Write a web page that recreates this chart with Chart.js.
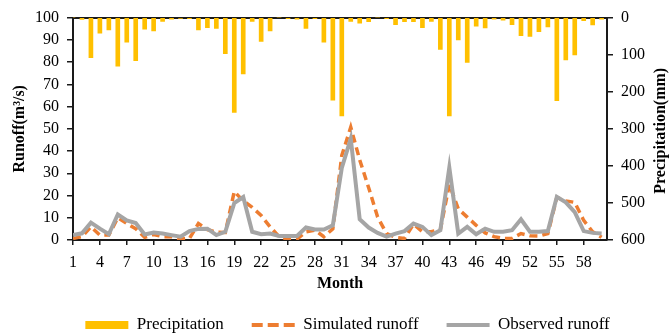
<!DOCTYPE html>
<html>
<head>
<meta charset="utf-8">
<script src="https://cdn.jsdelivr.net/npm/chart.js@4"></script>
<style>
  html, body { margin: 0; padding: 0; background: #fff; }
  #wrap { width: 669px; height: 335px; }
</style>
</head>
<body>
<div id="wrap"><canvas id="runoffChart"></canvas></div>
<script>
const months = [];
for (let m = 1; m <= 60; m++) months.push(m);

const xTickLabels = [1,4,7,10,13,16,19,22,25,28,31,34,37,40,43,46,49,52,55,58];

const precipitation = [
    0,5,108,42,33,131,66,116,31,36,
    10,4,2,3,33,27,29,97,256,152,
    10,64,36,0,3,4,29,3,66,223,
    265,10,15,11,0,3,19,11,11,27,
    10,86,265,60,121,23,28,4,7,19,
    49,51,38,25,224,114,101,8,20,4
];

const simulated = [
    0.7,1.5,5.9,2.2,2.2,10,7.4,5.1,1.2,2.5,
    1.5,1.5,0.4,0.7,7.4,4.7,3.5,3.4,21.8,17.6,
    14.7,11,5.9,1.5,0.3,0.4,3.7,4.4,1.5,5,
    38,50.7,36,23.5,10.3,2.9,1.2,0.7,7.1,3.7,
    3.7,4.7,25,14,10.3,6.6,3.2,1.5,0.7,0.7,
    2.9,1.9,1.8,2.9,19.1,17.6,16.9,8.8,3.7,1.2
];

const observed = [
    2.2,3,7.8,5.1,2.6,11.5,8.8,7.6,2.5,3.4,
    2.9,2.2,1.5,4,5,5.1,2.2,3.7,16.6,19.3,
    3.7,2.6,2.9,1.8,1.8,1.8,5.6,4.7,4.7,6.6,
    32.4,45.6,9.3,5.6,3.2,1.5,2.9,4,7.4,5.9,
    2.2,4.4,32.6,2.9,5.9,2.6,5.1,3.7,3.7,4.4,
    9.3,3.7,3.7,4,19.4,16.9,12.5,4,3.2,2.9
];

const serif = "'Liberation Serif', 'DejaVu Serif', serif";
Chart.defaults.font.family = serif;
Chart.defaults.color = "#000";

const pairs = (vals) => vals.map((v, i) => ({ x: months[i], y: v }));
const axisColor = "#1a1a1a";

// right axis title reads bottom-to-top like the left one
const rightTitle = {
    id: "rightTitle",
    afterDraw(chart) {
        const { ctx, chartArea } = chart;
        ctx.save();
        ctx.translate(661, (chartArea.top + chartArea.bottom) / 2 + 2);
        ctx.rotate(-Math.PI / 2);
        ctx.font = "bold 16px " + serif;
        ctx.fillStyle = "#000";
        ctx.textAlign = "center";
        ctx.textBaseline = "middle";
        ctx.fillText("Precipitation(mm)", 0, 0);
        ctx.restore();
    }
};

new Chart(document.getElementById("runoffChart"), {
    data: {
        datasets: [
            {
                type: "bar",
                label: "Precipitation",
                data: pairs(precipitation),
                yAxisID: "y2",
                backgroundColor: "#FFC000",
                borderWidth: 0,
                barThickness: 4,
                order: 3
            },
            {
                type: "line",
                label: "Simulated runoff",
                data: pairs(simulated),
                yAxisID: "y",
                borderColor: "#ED7D31",
                borderWidth: 3.5,
                borderDash: [8, 5],
                pointRadius: 0,
                tension: 0,
                order: 2
            },
            {
                type: "line",
                label: "Observed runoff",
                data: pairs(observed),
                yAxisID: "y",
                borderColor: "#A5A5A5",
                borderWidth: 4,
                pointRadius: 0,
                tension: 0,
                order: 1
            }
        ]
    },
    plugins: [rightTitle],
    options: {
        responsive: true,
        maintainAspectRatio: false,
        animation: false,
        layout: { padding: { left: 26, right: 0, top: 15.5, bottom: 0 } },
        plugins: {
            tooltip: { enabled: false },
            legend: {
                position: "bottom",
                maxHeight: 46.5,
                labels: {
                    font: { size: 17 },
                    usePointStyle: true,
                    pointStyleWidth: 43,
                    boxHeight: 8,
                    padding: 28,
                    generateLabels: (chart) => chart.data.datasets.map((ds, i) => ({
                        text: ds.label,
                        datasetIndex: i,
                        fillStyle: ds.backgroundColor || ds.borderColor,
                        strokeStyle: ds.borderColor || ds.backgroundColor,
                        lineWidth: i === 0 ? 0 : 4,
                        lineDash: ds.borderDash ? [11, 5] : [],
                        pointStyle: i === 0 ? "rect" : "line",
                        fontColor: "#000"
                    }))
                }
            }
        },
        scales: {
            x: {
                type: "linear",
                min: 1,
                max: 60.6,
                offset: false,
                afterBuildTicks: (scale) => { scale.ticks = xTickLabels.map(v => ({ value: v })); },
                afterFit: (scale) => { scale.height = 48.5; },
                ticks: { font: { size: 16 }, maxRotation: 0, autoSkip: false, padding: 8 },
                grid: { offset: false, drawOnChartArea: false, tickLength: 5, color: axisColor, lineWidth: 1.5 },
                border: { color: axisColor, width: 2 },
                title: { display: true, text: "Month", font: { size: 16, weight: "bold" }, padding: { top: 0, bottom: -5 } }
            },
            xTop: {
                type: "linear",
                position: "top",
                min: 1,
                max: 60.6,
                offset: false,
                afterFit: (scale) => { scale.height = 0; },
                ticks: { display: false },
                grid: { display: false, drawTicks: false },
                border: { color: axisColor, width: 2 }
            },
            y: {
                position: "left",
                min: 0,
                max: 100,
                afterFit: (scale) => { scale.width = 47; },
                ticks: { stepSize: 10, font: { size: 16 }, padding: 8 },
                grid: { drawOnChartArea: false, tickLength: 6, color: axisColor, lineWidth: 1.5 },
                border: { color: axisColor, width: 2 },
                title: { display: true, text: "Runoff(m³/s)", font: { size: 16, weight: "bold" }, padding: { top: -15.6, bottom: 0 } }
            },
            y2: {
                position: "right",
                reverse: true,
                min: 0,
                max: 600,
                afterFit: (scale) => { scale.width = 62; },
                ticks: { stepSize: 100, font: { size: 16 }, padding: 8 },
                grid: { drawOnChartArea: false, tickLength: 6, color: axisColor, lineWidth: 1.5 },
                border: { color: axisColor, width: 2 }
            }
        }
    }
});
</script>
</body>
</html>
